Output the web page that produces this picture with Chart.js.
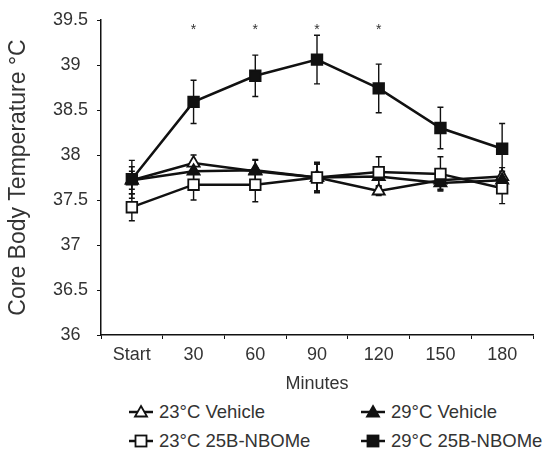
<!DOCTYPE html>
<html>
<head>
<meta charset="utf-8">
<script src="https://cdn.jsdelivr.net/npm/chart.js@4"></script>
<style>
  html, body { margin: 0; padding: 0; background: #fff; }
  #wrap { position: relative; width: 550px; height: 449px; }
  #chart { position: absolute; left: 0; top: 0; }
  .legend { position: absolute; font-family: 'Liberation Sans', Arial, sans-serif; font-size: 18.5px; color: #333; white-space: nowrap; display: flex; align-items: center; }
  .legend svg { margin-right: 5px; }
</style>
</head>
<body>
<div id="wrap">
  <canvas id="chart" width="550" height="395"></canvas>
</div>
<script>
// 横轴类别
const labels = ['Start', '30', '60', '90', '120', '150', '180']

// 各组体温均值与误差
const veh23 = [37.72, 37.91, 37.82, 37.75, 37.60, 37.72, 37.76]
const veh23Err = [0.10, 0.09, 0.12, 0.15, 0.05, 0.10, 0.10]
const veh29 = [37.72, 37.82, 37.83, 37.75, 37.76, 37.69, 37.72]
const veh29Err = [0.15, 0.10, 0.12, 0.15, 0.10, 0.08, 0.10]
const nbome23 = [37.42, 37.67, 37.67, 37.75, 37.81, 37.79, 37.63]
const nbome23Err = [0.15, 0.17, 0.19, 0.17, 0.17, 0.19, 0.17]
const nbome29 = [37.73, 38.59, 38.88, 39.06, 38.74, 38.30, 38.07]
const nbome29Err = [0.21, 0.24, 0.23, 0.27, 0.27, 0.23, 0.28]

// 显著性标记
const sigLabels = ['30', '60', '90', '120']
const sigLevel = 39.39

const yTicks = [36, 36.5, 37, 37.5, 38, 38.5, 39, 39.5]

const FONT = "'Liberation Sans', Arial, sans-serif"
const INK = '#111'
const TEXT = '#333'

function series(label, data, errs, style, fill, radius, order) {
    return {
        label,
        data,
        errs,
        borderColor: INK,
        borderWidth: 2.5,
        pointStyle: style,
        pointRadius: radius,
        pointBackgroundColor: fill,
        pointBorderColor: INK,
        pointBorderWidth: 1.8,
        tension: 0,
        order,
    }
}

// 误差线
const errorBars = {
    id: 'errorBars',
    beforeDatasetsDraw(chart) {
        const { ctx } = chart
        const y = chart.scales.y
        ctx.save()
        ctx.strokeStyle = INK
        ctx.lineWidth = 1.4
        chart.data.datasets.forEach((ds, di) => {
            const meta = chart.getDatasetMeta(di)
            meta.data.forEach((pt, i) => {
                const e = ds.errs[i]
                const top = y.getPixelForValue(ds.data[i] + e)
                const bot = y.getPixelForValue(ds.data[i] - e)
                ctx.beginPath()
                ctx.moveTo(pt.x, top); ctx.lineTo(pt.x, bot)
                ctx.moveTo(pt.x - 3, top); ctx.lineTo(pt.x + 3, top)
                ctx.moveTo(pt.x - 3, bot); ctx.lineTo(pt.x + 3, bot)
                ctx.stroke()
            })
        })
        ctx.restore()
    }
}

// 星号
const stars = {
    id: 'stars',
    afterDatasetsDraw(chart) {
        const { ctx } = chart
        const x = chart.scales.x, y = chart.scales.y
        ctx.save()
        ctx.fillStyle = TEXT
        ctx.font = '14px ' + FONT
        ctx.textAlign = 'center'
        ctx.textBaseline = 'middle'
        sigLabels.forEach(l => {
            ctx.fillText('*', x.getPixelForValue(labels.indexOf(l)), y.getPixelForValue(sigLevel))
        })
        ctx.restore()
    }
}

new Chart(document.getElementById('chart'), {
    type: 'line',
    data: {
        labels,
        datasets: [
            series('23°C Vehicle', veh23, veh23Err, 'triangle', '#fff', 7, 4),
            series('29°C Vehicle', veh29, veh29Err, 'triangle', INK, 7, 3),
            series('23°C 25B-NBOMe', nbome23, nbome23Err, 'rect', '#fff', 7.5, 2),
            series('29°C 25B-NBOMe', nbome29, nbome29Err, 'rect', INK, 7.5, 1),
        ]
    },
    options: {
        responsive: false,
        animation: false,
        layout: { padding: { top: 20, right: 17, left: 0, bottom: 0 } },
        plugins: { legend: { display: false }, tooltip: { enabled: false } },
        scales: {
            x: {
                offset: true,
                grid: { offset: true, drawOnChartArea: false, drawTicks: true, tickLength: 4, color: INK },
                border: { color: INK, width: 1.5 },
                ticks: { color: TEXT, font: { family: FONT, size: 18 }, padding: 5 },
                title: { display: true, text: 'Minutes', color: TEXT, font: { family: FONT, size: 18 }, padding: { top: 2, bottom: 0 } },
                afterFit(scale) { scale.height = 60 },
            },
            y: {
                min: 36,
                max: 39.5,
                afterBuildTicks(scale) { scale.ticks = yTicks.map(v => ({ value: v })) },
                grid: { drawOnChartArea: false, drawTicks: true, tickLength: 4, color: INK },
                border: { color: INK, width: 1.5 },
                ticks: { color: TEXT, font: { family: FONT, size: 18 }, padding: 9, crossAlign: 'center', callback: v => String(v) },
                title: { display: true, text: 'Core Body Temperature °C', color: TEXT, font: { family: FONT, size: 23 }, padding: { top: 5, bottom: 0 } },
                afterFit(scale) { scale.width = 101 },
            }
        }
    },
    plugins: [errorBars, stars]
})

// 图例
const legendItems = [
    { label: '23°C Vehicle', shape: 'tri', fill: '#fff', x: 128, y: 412 },
    { label: '29°C Vehicle', shape: 'tri', fill: INK, x: 360, y: 412 },
    { label: '23°C 25B-NBOMe', shape: 'sq', fill: '#fff', x: 128, y: 441 },
    { label: '29°C 25B-NBOMe', shape: 'sq', fill: INK, x: 360, y: 441 },
]
const wrap = document.getElementById('wrap')
legendItems.forEach(it => {
    const div = document.createElement('div')
    div.className = 'legend'
    div.style.left = it.x + 'px'
    div.style.top = (it.y - 11) + 'px'
    div.style.height = '22px'
    const mark = it.shape === 'tri'
        ? `<polygon points="13,4 19,14.5 7,14.5" fill="${it.fill}" stroke="${INK}" stroke-width="1.8"/>`
        : `<rect x="7.5" y="4.5" width="11" height="11" fill="${it.fill}" stroke="${INK}" stroke-width="1.8"/>`
    div.innerHTML = `<svg width="26" height="20"><line x1="1" y1="10" x2="25" y2="10" stroke="${INK}" stroke-width="2.5"/>${mark}</svg><span>${it.label}</span>`
    wrap.appendChild(div)
})
</script>
</body>
</html>
